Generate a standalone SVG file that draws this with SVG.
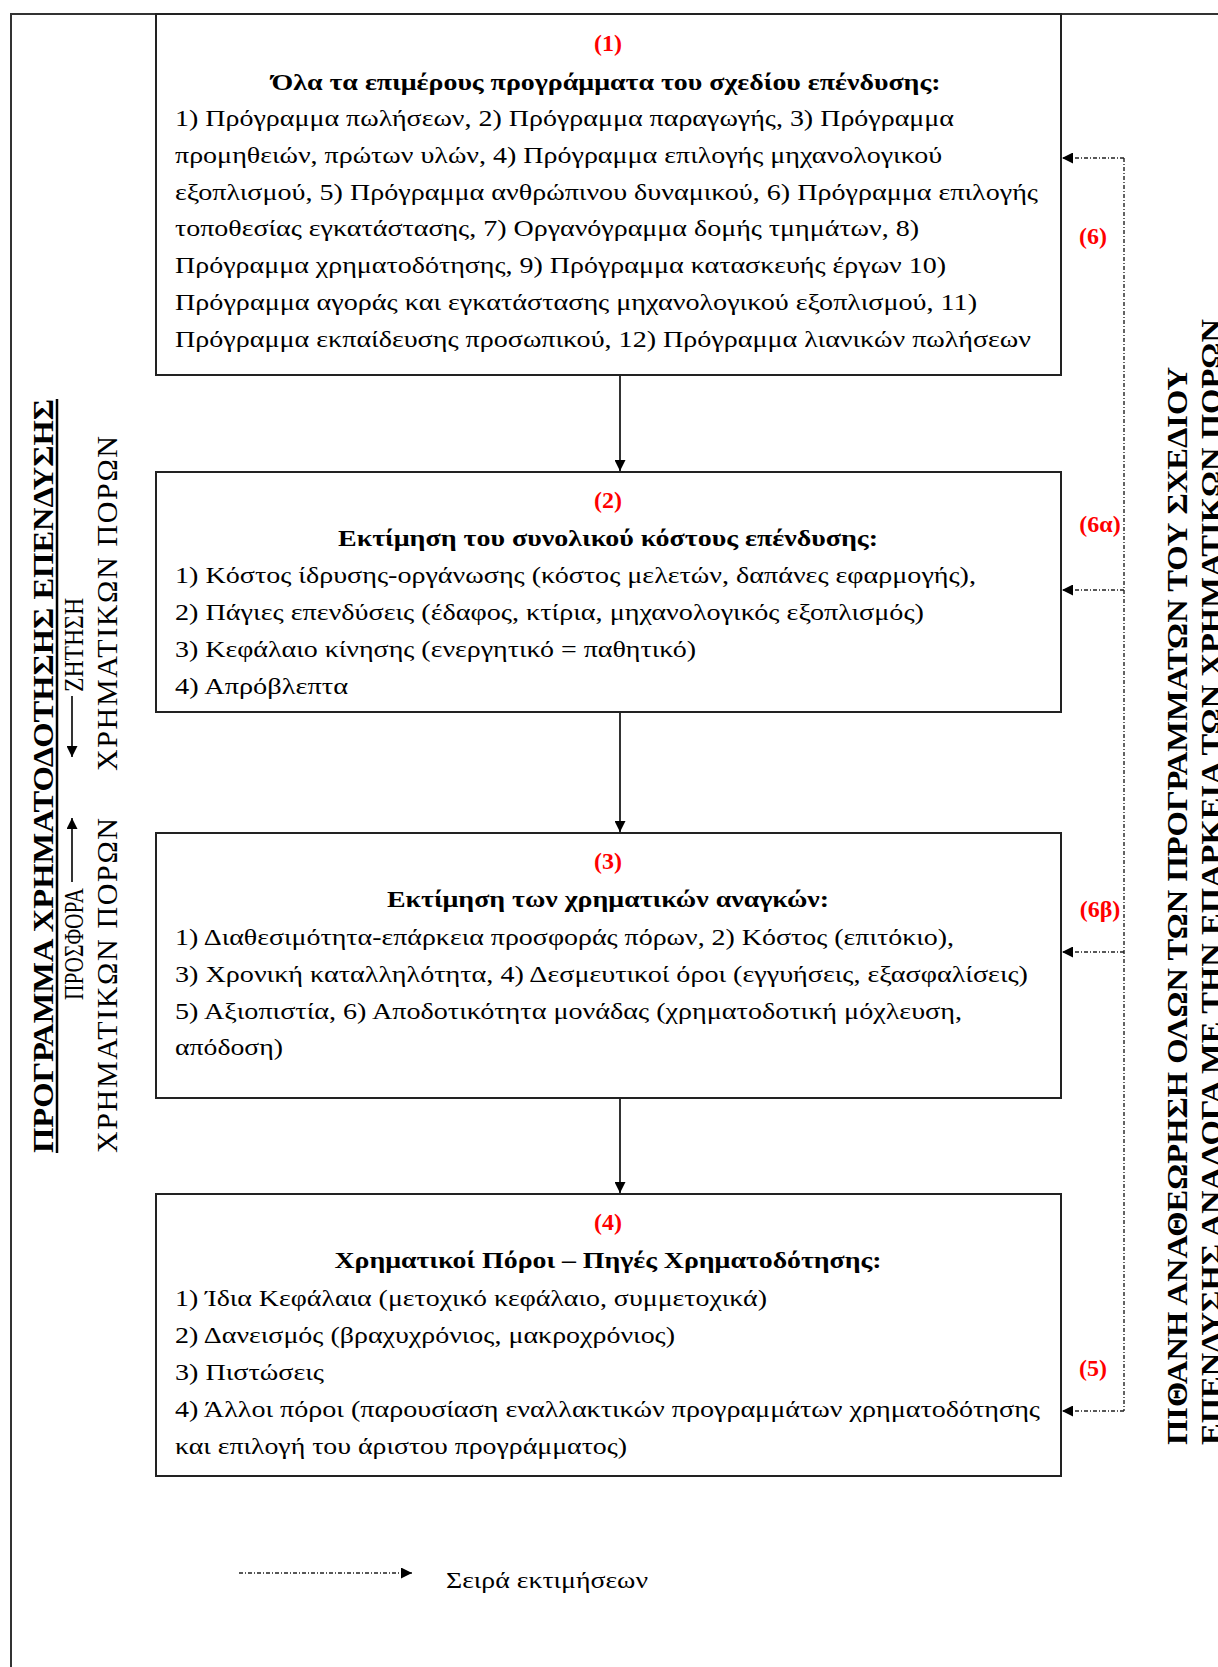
<svg xmlns="http://www.w3.org/2000/svg" width="1218" height="1667" viewBox="0 0 1218 1667">
<style>
  text { font-family: "Liberation Serif", "Times New Roman", "DejaVu Serif", serif; fill: #000; }
  .t { font-size: 24px; }
  .h { font-size: 24px; font-weight: bold; text-anchor: middle; }
  .n { font-size: 24px; font-weight: bold; fill: #ff0000; text-anchor: middle; }
  .v { font-size: 30px; }
  .v2 { font-size: 28px; }
  .vb { font-size: 30px; font-weight: bold; }
  .box { fill: #fff; stroke: #222; stroke-width: 2; }
  .frame { fill: none; stroke: #333; stroke-width: 2; }
  .solid { stroke: #000; stroke-width: 1.6; fill: none; }
  .dot { stroke: #222; stroke-width: 1.4; fill: none; stroke-dasharray: 4 2 1 2; }
</style>
<defs>
  <marker id="ah" viewBox="0 0 10 10" refX="10" refY="5" markerWidth="12" markerHeight="11" markerUnits="userSpaceOnUse" orient="auto">
    <path d="M0,0 L10,5 L0,10 z" fill="#000"/>
  </marker>
</defs>
<rect width="1218" height="1667" fill="#fff"/>
<path class="frame" d="M1218,14 H11 V1667"/>

<g id="node1">
  <rect class="box" x="156" y="14" width="905" height="361"/>
  <text class="n" x="608" y="51">(1)</text>
  <text class="h" x="606" y="90" textLength="669" lengthAdjust="spacingAndGlyphs">Όλα τα επιμέρους προγράμματα του σχεδίου επένδυσης:</text>
  <text class="t" x="175" y="126" textLength="779" lengthAdjust="spacingAndGlyphs">1) Πρόγραμμα πωλήσεων, 2) Πρόγραμμα παραγωγής, 3) Πρόγραμμα</text>
  <text class="t" x="175" y="163" textLength="767" lengthAdjust="spacingAndGlyphs">προμηθειών, πρώτων υλών, 4) Πρόγραμμα επιλογής μηχανολογικού</text>
  <text class="t" x="175" y="200" textLength="863" lengthAdjust="spacingAndGlyphs">εξοπλισμού, 5) Πρόγραμμα ανθρώπινου δυναμικού, 6) Πρόγραμμα επιλογής</text>
  <text class="t" x="175" y="236" textLength="744" lengthAdjust="spacingAndGlyphs">τοποθεσίας εγκατάστασης, 7) Οργανόγραμμα δομής τμημάτων, 8)</text>
  <text class="t" x="175" y="273" textLength="771" lengthAdjust="spacingAndGlyphs">Πρόγραμμα χρηματοδότησης, 9) Πρόγραμμα κατασκευής έργων 10)</text>
  <text class="t" x="175" y="310" textLength="802" lengthAdjust="spacingAndGlyphs">Πρόγραμμα αγοράς και εγκατάστασης μηχανολογικού εξοπλισμού, 11)</text>
  <text class="t" x="175" y="347" textLength="856" lengthAdjust="spacingAndGlyphs">Πρόγραμμα εκπαίδευσης προσωπικού, 12) Πρόγραμμα λιανικών πωλήσεων</text>
</g>

<g id="node2">
  <rect class="box" x="156" y="472" width="905" height="240"/>
  <text class="n" x="608" y="508">(2)</text>
  <text class="h" x="608" y="546" textLength="540" lengthAdjust="spacingAndGlyphs">Εκτίμηση του συνολικού κόστους επένδυσης:</text>
  <text class="t" x="175" y="583" textLength="801" lengthAdjust="spacingAndGlyphs">1) Κόστος ίδρυσης-οργάνωσης (κόστος μελετών, δαπάνες εφαρμογής),</text>
  <text class="t" x="175" y="620" textLength="749" lengthAdjust="spacingAndGlyphs">2) Πάγιες επενδύσεις (έδαφος, κτίρια, μηχανολογικός εξοπλισμός)</text>
  <text class="t" x="175" y="657" textLength="521" lengthAdjust="spacingAndGlyphs">3) Κεφάλαιο κίνησης (ενεργητικό = παθητικό)</text>
  <text class="t" x="175" y="694" textLength="173" lengthAdjust="spacingAndGlyphs">4) Απρόβλεπτα</text>
</g>

<g id="node3">
  <rect class="box" x="156" y="833" width="905" height="265"/>
  <text class="n" x="608" y="869">(3)</text>
  <text class="h" x="608" y="907" textLength="442" lengthAdjust="spacingAndGlyphs">Εκτίμηση των χρηματικών αναγκών:</text>
  <text class="t" x="175" y="945" textLength="779" lengthAdjust="spacingAndGlyphs">1) Διαθεσιμότητα-επάρκεια προσφοράς πόρων, 2) Κόστος (επιτόκιο),</text>
  <text class="t" x="175" y="982" textLength="853" lengthAdjust="spacingAndGlyphs">3) Χρονική καταλληλότητα, 4) Δεσμευτικοί όροι (εγγυήσεις, εξασφαλίσεις)</text>
  <text class="t" x="175" y="1019" textLength="787" lengthAdjust="spacingAndGlyphs">5) Αξιοπιστία, 6) Αποδοτικότητα μονάδας (χρηματοδοτική μόχλευση,</text>
  <text class="t" x="175" y="1055" textLength="108" lengthAdjust="spacingAndGlyphs">απόδοση)</text>
</g>

<g id="node4">
  <rect class="box" x="156" y="1194" width="905" height="282"/>
  <text class="n" x="608" y="1230">(4)</text>
  <text class="h" x="608" y="1268" textLength="547" lengthAdjust="spacingAndGlyphs">Χρηματικοί Πόροι – Πηγές Χρηματοδότησης:</text>
  <text class="t" x="175" y="1306" textLength="592" lengthAdjust="spacingAndGlyphs">1) Ίδια Κεφάλαια (μετοχικό κεφάλαιο, συμμετοχικά)</text>
  <text class="t" x="175" y="1343" textLength="500" lengthAdjust="spacingAndGlyphs">2) Δανεισμός (βραχυχρόνιος, μακροχρόνιος)</text>
  <text class="t" x="175" y="1380" textLength="149" lengthAdjust="spacingAndGlyphs">3) Πιστώσεις</text>
  <text class="t" x="175" y="1417" textLength="865" lengthAdjust="spacingAndGlyphs">4) Άλλοι πόροι (παρουσίαση εναλλακτικών προγραμμάτων χρηματοδότησης</text>
  <text class="t" x="175" y="1454" textLength="452" lengthAdjust="spacingAndGlyphs">και επιλογή του άριστου προγράμματος)</text>
</g>

<g id="connectors">
  <line class="solid" x1="620" y1="376" x2="620" y2="471" marker-end="url(#ah)"/>
  <line class="solid" x1="620" y1="713" x2="620" y2="832" marker-end="url(#ah)"/>
  <line class="solid" x1="620" y1="1099" x2="620" y2="1193" marker-end="url(#ah)"/>
  <path class="dot" d="M1124,158 V1411"/>
  <line class="dot" x1="1124" y1="158" x2="1062" y2="158" marker-end="url(#ah)"/>
  <line class="dot" x1="1124" y1="590" x2="1062" y2="590" marker-end="url(#ah)"/>
  <line class="dot" x1="1124" y1="952" x2="1062" y2="952" marker-end="url(#ah)"/>
  <line class="dot" x1="1124" y1="1411" x2="1062" y2="1411" marker-end="url(#ah)"/>
</g>

<g id="labels">
  <text class="n" x="1093" y="244">(6)</text>
  <text class="n" x="1100" y="532">(6α)</text>
  <text class="n" x="1100" y="917">(6β)</text>
  <text class="n" x="1093" y="1376">(5)</text>
</g>

<g id="left-side">
  <text class="vb" transform="translate(53,1153) rotate(-90)" textLength="754" lengthAdjust="spacingAndGlyphs">ΠΡΟΓΡΑΜΜΑ ΧΡΗΜΑΤΟΔΟΤΗΣΗΣ ΕΠΕΝΔΥΣΗΣ</text>
  <line x1="57" y1="399" x2="57" y2="1153" stroke="#000" stroke-width="2.5"/>
  <text class="v2" transform="translate(83,1000) rotate(-90)" textLength="112" lengthAdjust="spacingAndGlyphs">ΠΡΟΣΦΟΡΑ</text>
  <line class="solid" x1="72" y1="882" x2="72" y2="818" marker-end="url(#ah)"/>
  <line class="solid" x1="72" y1="696" x2="72" y2="757" marker-end="url(#ah)"/>
  <text class="v2" transform="translate(83,692) rotate(-90)" textLength="94" lengthAdjust="spacingAndGlyphs">ΖΗΤΗΣΗ</text>
  <text class="v" transform="translate(117,1153) rotate(-90)" textLength="335">ΧΡΗΜΑΤΙΚΩΝ ΠΟΡΩΝ</text>
  <text class="v" transform="translate(117,771) rotate(-90)" textLength="335">ΧΡΗΜΑΤΙΚΩΝ ΠΟΡΩΝ</text>
</g>

<g id="right-side">
  <text class="vb" transform="translate(1187,1445) rotate(-90)" textLength="1078" lengthAdjust="spacingAndGlyphs">ΠΙΘΑΝΗ ΑΝΑΘΕΩΡΗΣΗ ΟΛΩΝ ΤΩΝ ΠΡΟΓΡΑΜΜΑΤΩΝ ΤΟΥ ΣΧΕΔΙΟΥ</text>
  <text class="vb" transform="translate(1221,1445) rotate(-90)" textLength="1126" lengthAdjust="spacingAndGlyphs">ΕΠΕΝΔΥΣΗΣ ΑΝΑΛΟΓΑ ΜΕ ΤΗΝ ΕΠΑΡΚΕΙΑ ΤΩΝ ΧΡΗΜΑΤΙΚΩΝ ΠΟΡΩΝ</text>
</g>

<g id="legend">
  <line class="dot" x1="239" y1="1573" x2="412" y2="1573" marker-end="url(#ah)"/>
  <text class="t" x="446" y="1588" textLength="202" lengthAdjust="spacingAndGlyphs">Σειρά εκτιμήσεων</text>
</g>
</svg>
